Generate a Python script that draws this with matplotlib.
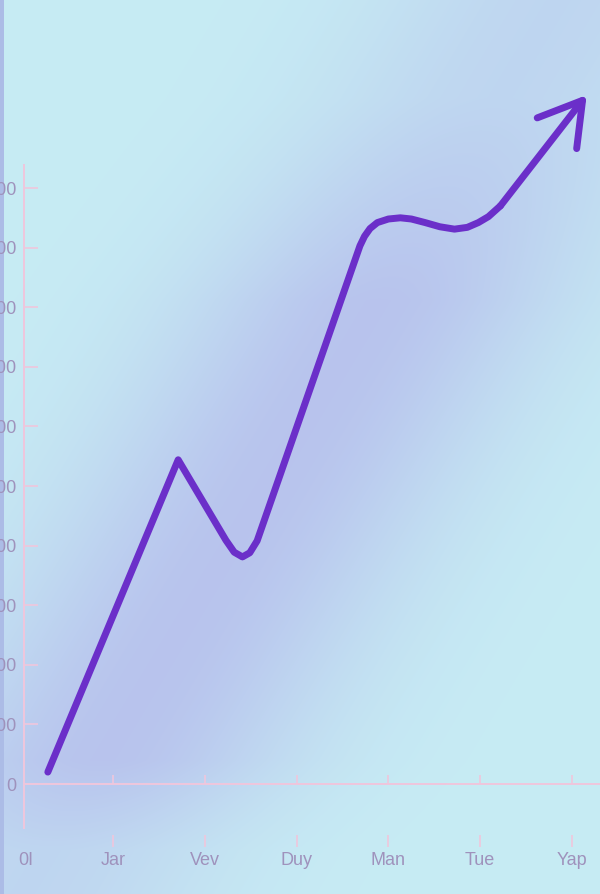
import matplotlib
matplotlib.use("Agg")
import matplotlib.pyplot as plt
import numpy as np

plt.rcParams["font.family"] = ["Liberation Sans", "DejaVu Sans"]

# data
x_labels = ["0I", "Jar", "Vev", "Duy", "Man", "Tue", "Yap"]
x_ticks = [0.047, 1, 2, 3, 4, 5, 6]
y_ticks = [0, 1, 2, 3, 4, 5, 6, 7, 8, 9, 10]
y_labels = ["0", "100", "200", "300", "400", "500", "600", "700", "800", "900", "1000"]

line_x = [0.29, 1.71, 2.23, 2.32, 2.41, 2.49, 2.57, 3.69, 3.74, 3.80, 3.88,
          4.00, 4.13, 4.25, 4.40, 4.56, 4.72, 4.86, 4.98, 5.09, 5.22, 6.16]
line_y = [0.20, 5.44, 4.09, 3.89, 3.81, 3.88, 4.08, 9.03, 9.19, 9.32, 9.42,
          9.48, 9.50, 9.48, 9.42, 9.35, 9.31, 9.34, 9.42, 9.52, 9.70, 11.56]

LINE_C = "#6b2fc9"
AXIS_C = "#efc6dc"
TEXT_C = "#9f92bc"

W, H = 600, 894
fig = plt.figure(figsize=(W / 100, H / 100), dpi=100)

# background: cyan with a soft lavender diagonal glow, fading at top and bottom
bg = fig.add_axes([0, 0, 1, 1], zorder=0)
gx, gy = np.meshgrid(np.arange(W), np.arange(H))
s = (gx - 150) * 0.857 + (gy - 680) * 0.514
fade = np.clip((gy + 150) / 450.0, 0.55, 1.0) * np.clip((960 - gy) / 200.0, 0.55, 1.0)
w = 0.82 * fade * np.exp(-0.5 * (s / 115.0) ** 2)
cyan = np.array([199, 236, 244]) / 255
lav = np.array([181, 187, 236]) / 255
img = cyan[None, None, :] * (1 - w[..., None]) + lav[None, None, :] * w[..., None]
img[:, :4] = np.array([172, 188, 230]) / 255
bg.imshow(img, aspect="auto", extent=(0, W, H, 0))
bg.set_xlim(0, W)
bg.set_ylim(H, 0)
bg.axis("off")

ax = fig.add_axes([24 / W, (H - 847) / H, (W - 24) / W, (847 - 160) / H], zorder=1)
ax.patch.set_alpha(0)
ax.set_xlim(0.0305, 6.305)
ax.set_ylim(-1.057, 10.47)

for side in ("top", "right", "bottom"):
    ax.spines[side].set_visible(False)
ax.spines["left"].set_color(AXIS_C)
ax.spines["left"].set_linewidth(1.4)
ax.spines["left"].set_bounds(-0.74, 10.39)

ax.set_yticks(y_ticks)
ax.set_yticklabels(y_labels)
ax.tick_params(axis="y", direction="in", length=10, width=1.2, color=AXIS_C,
               labelcolor=TEXT_C, labelsize=13, pad=5.4)

ax.set_xticks(x_ticks)
ax.set_xticklabels(x_labels)
ax.tick_params(axis="x", direction="in", length=8.6, width=1.2, color=AXIS_C,
               labelcolor=TEXT_C, labelsize=13, pad=3.5)
first = ax.xaxis.get_major_ticks()[0]
first.tick1line.set_visible(False)

# x axis line at y=0 with small upward ticks
frac0 = (0 - (-1.057)) / (10.47 + 1.057)
sec = ax.secondary_xaxis(frac0)
sec.spines["bottom"].set_color(AXIS_C)
sec.spines["bottom"].set_linewidth(1.4)
sec.spines["top"].set_visible(False)
sec.set_xticks(x_ticks[1:])
sec.set_xticklabels([])
sec.tick_params(axis="x", direction="in", length=6.5, width=1.2, color=AXIS_C)

ax.plot(line_x[:-1], line_y[:-1], color=LINE_C, lw=5.0, solid_joinstyle="round",
        solid_capstyle="round", clip_on=False, zorder=5)
ax.annotate("", xy=(line_x[-1], line_y[-1]), xytext=(line_x[-2], line_y[-2]),
            annotation_clip=False, zorder=5,
            arrowprops=dict(arrowstyle="->,head_length=3.0,head_width=1.8",
                            color=LINE_C, lw=5.0, shrinkA=0, shrinkB=0,
                            capstyle="round", joinstyle="round",
                            mutation_scale=10))

fig.savefig("out.png", dpi=100)
